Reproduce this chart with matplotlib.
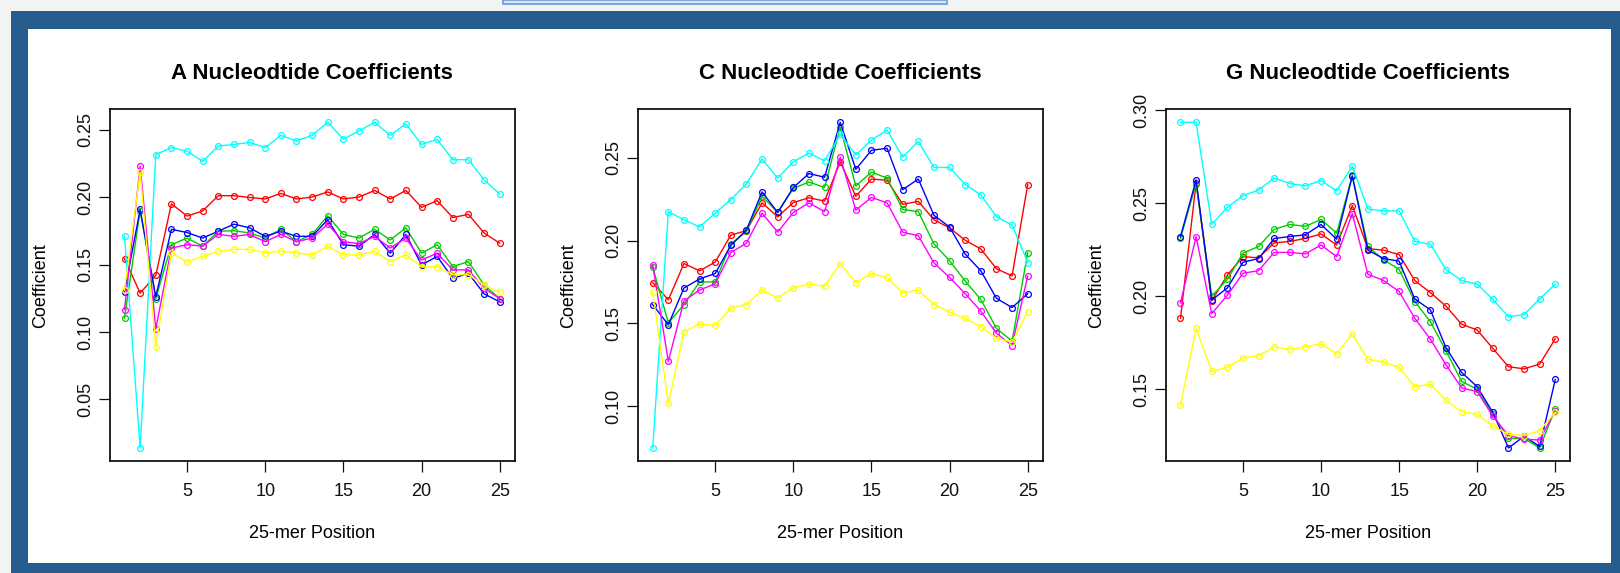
import matplotlib
matplotlib.use("Agg")
import matplotlib.pyplot as plt
from matplotlib.patches import Rectangle

plt.rcParams["font.family"] = ["Liberation Sans", "DejaVu Sans"]

positions = list(range(1, 26))

# A nucleotide
a_red = [0.1544, 0.1288, 0.1419, 0.195, 0.1859, 0.1897, 0.201, 0.201, 0.1997, 0.1986, 0.2027, 0.1986, 0.2,
         0.2038, 0.1986, 0.2, 0.2049, 0.1986, 0.2049, 0.1924, 0.1973, 0.1848, 0.1872, 0.1734, 0.1658]
a_green = [0.1103, 0.19, 0.1247, 0.1647, 0.1696, 0.1636, 0.1747, 0.175, 0.1734, 0.1696, 0.1761, 0.1669, 0.1723,
           0.1861, 0.1723, 0.1696, 0.1761, 0.1682, 0.1772, 0.1584, 0.1647, 0.1484, 0.1522, 0.1348, 0.1247]
a_blue = [0.1299, 0.1908, 0.1261, 0.1761, 0.1737, 0.1696, 0.1747, 0.1799, 0.1772, 0.1709, 0.1747, 0.1709, 0.1709,
          0.1832, 0.1647, 0.1636, 0.1723, 0.1584, 0.1723, 0.1497, 0.156, 0.1397, 0.1435, 0.1283, 0.1223]
a_cyan = [0.171, 0.014, 0.2315, 0.2367, 0.234, 0.2264, 0.2378, 0.239, 0.2405, 0.2367, 0.2457, 0.2416, 0.2457,
          0.2554, 0.243, 0.249, 0.2554, 0.2457, 0.2543, 0.239, 0.2427, 0.2277, 0.2277, 0.2128, 0.2022]
a_magenta = [0.1166, 0.2228, 0.1022, 0.1622, 0.1647, 0.1636, 0.1723, 0.1709, 0.1723, 0.1669, 0.1723, 0.1669, 0.1696,
             0.1799, 0.1669, 0.1655, 0.1709, 0.1622, 0.1696, 0.1533, 0.1584, 0.146, 0.146, 0.1324, 0.1247]
a_yellow = [0.131, 0.2185, 0.0892, 0.1587, 0.1519, 0.156, 0.1598, 0.1612, 0.1612, 0.1587, 0.1598, 0.1587, 0.1571,
            0.1636, 0.1571, 0.1571, 0.1598, 0.1522, 0.1571, 0.1484, 0.1484, 0.1424, 0.1424, 0.1348, 0.1294]

# C nucleotide
c_red = [0.1746, 0.1642, 0.1861, 0.1817, 0.187, 0.2033, 0.206, 0.2228, 0.2144, 0.223, 0.2259, 0.2239, 0.2476,
         0.2268, 0.2372, 0.2365, 0.2219, 0.2237, 0.2126, 0.2077, 0.2002, 0.1949, 0.183, 0.1786, 0.2339]
c_green = [0.1841, 0.1502, 0.1613, 0.175, 0.175, 0.198, 0.2055, 0.2268, 0.217, 0.2316, 0.2354, 0.2321, 0.2686,
           0.233, 0.2414, 0.2378, 0.2188, 0.2175, 0.198, 0.1878, 0.1755, 0.1644, 0.1469, 0.1392, 0.1927]
c_blue = [0.1613, 0.1491, 0.1713, 0.1768, 0.1801, 0.1971, 0.2064, 0.2294, 0.217, 0.2321, 0.2405, 0.2383, 0.2715,
          0.2431, 0.2546, 0.2558, 0.2308, 0.2372, 0.2153, 0.2082, 0.1918, 0.1817, 0.1651, 0.1595, 0.1679]
c_cyan = [0.0746, 0.2175, 0.2126, 0.2082, 0.2166, 0.2248, 0.2343, 0.2493, 0.2378, 0.2476, 0.2529, 0.2482, 0.2642,
          0.2518, 0.2608, 0.2668, 0.2504, 0.26, 0.2442, 0.2442, 0.2339, 0.2277, 0.2144, 0.2095, 0.1867]
c_magenta = [0.1852, 0.127, 0.1635, 0.1701, 0.1739, 0.1927, 0.1985, 0.2166, 0.2051, 0.217, 0.2228, 0.2175, 0.2504,
             0.2184, 0.2261, 0.2228, 0.2051, 0.2029, 0.1865, 0.1777, 0.1679, 0.1573, 0.144, 0.1365, 0.1786]
c_yellow = [0.169, 0.1016, 0.1447, 0.1496, 0.1487, 0.1591, 0.1613, 0.1701, 0.1653, 0.1715, 0.1737, 0.1724, 0.1861,
            0.1746, 0.1799, 0.1777, 0.1684, 0.1701, 0.1613, 0.1569, 0.1529, 0.148, 0.1409, 0.1387, 0.1569]

# G nucleotide
g_red = [0.1882, 0.261, 0.1976, 0.2114, 0.2213, 0.2207, 0.2287, 0.2295, 0.2311, 0.2335, 0.2276, 0.2488, 0.2256,
         0.2248, 0.2224, 0.2085, 0.202, 0.1947, 0.185, 0.1819, 0.172, 0.1622, 0.161, 0.1636, 0.1772]
g_green = [0.2311, 0.2606, 0.2, 0.2091, 0.2232, 0.2268, 0.236, 0.2386, 0.2376, 0.2413, 0.2339, 0.265, 0.2268,
           0.2197, 0.2144, 0.1972, 0.1864, 0.1707, 0.1543, 0.15, 0.1366, 0.1236, 0.1236, 0.1185, 0.1396]
g_blue = [0.2321, 0.2626, 0.198, 0.2045, 0.2183, 0.2203, 0.2311, 0.2321, 0.2331, 0.2386, 0.2307, 0.2646, 0.2248,
          0.2203, 0.2189, 0.1986, 0.1927, 0.1724, 0.1591, 0.1514, 0.1376, 0.1185, 0.1248, 0.1193, 0.1553]
g_cyan = [0.2935, 0.2935, 0.2386, 0.2478, 0.2541, 0.2571, 0.2636, 0.2606, 0.2594, 0.2622, 0.2567, 0.2699, 0.2469,
          0.2459, 0.2459, 0.2295, 0.228, 0.2144, 0.2085, 0.2065, 0.1984, 0.189, 0.1902, 0.1986, 0.2065]
g_magenta = [0.1965, 0.2321, 0.1907, 0.2006, 0.2124, 0.2138, 0.2236, 0.2236, 0.2228, 0.2276, 0.2213, 0.2445, 0.2118,
             0.2085, 0.2026, 0.1882, 0.177, 0.1632, 0.1508, 0.1488, 0.1356, 0.1252, 0.1232, 0.1228, 0.1386]
g_yellow = [0.1415, 0.1829, 0.1596, 0.1618, 0.1669, 0.1681, 0.1728, 0.1715, 0.1728, 0.1744, 0.1691, 0.1799, 0.1661,
            0.1646, 0.1618, 0.1514, 0.1528, 0.1441, 0.138, 0.1366, 0.1303, 0.1258, 0.1252, 0.1278, 0.1376]

titles = ["A Nucleodtide Coefficients", "C Nucleodtide Coefficients", "G Nucleodtide Coefficients"]
panels = [
    [a_red, a_green, a_blue, a_cyan, a_magenta, a_yellow],
    [c_red, c_green, c_blue, c_cyan, c_magenta, c_yellow],
    [g_red, g_green, g_blue, g_cyan, g_magenta, g_yellow],
]
yticks = [[0.05, 0.10, 0.15, 0.20, 0.25], [0.10, 0.15, 0.20, 0.25], [0.15, 0.20, 0.25, 0.30]]
xticks = [5, 10, 15, 20, 25]
colors = ["#ff0000", "#00cd00", "#0000ff", "#00ffff", "#ff00ff", "#ffff00"]

W, H = 1620, 573
fig = plt.figure(figsize=(W / 100, H / 100), dpi=100)
fig.patch.set_facecolor("#f3f3f3")

# window frame behind the plots
fig.patches.append(Rectangle((11 / W, 0), 1 - 11 / W, 1 - 10.7 / H, transform=fig.transFigure,
                             facecolor="#275d8c", edgecolor="none", zorder=-10))
fig.patches.append(Rectangle((28 / W, 1 - 563 / H), (1611 - 28) / W, (563 - 28.6) / H, transform=fig.transFigure,
                             facecolor="white", edgecolor="none", zorder=-9))
fig.patches.append(Rectangle((503 / W, 1 - 3.5 / H), (947 - 503) / W, 4 / H, transform=fig.transFigure,
                             facecolor="#dce8f5", edgecolor="#6b9bd2", linewidth=1.2, zorder=-9))

# axes boxes in pixels: left, right
boxes = [(109.5, 514.7), (637.7, 1042.7), (1165.5, 1570.3)]
top, bottom = 109.3, 461.0

for i in range(3):
    left, right = boxes[i]
    ax = fig.add_axes([left / W, 1 - bottom / H, (right - left) / W, (bottom - top) / H])
    ax.set_zorder(1)
    series = panels[i]
    for vals, col in zip(series, colors):
        ax.plot(positions, vals, color=col, linewidth=1.0, marker="o", markersize=4.2,
                markerfacecolor="none", markeredgecolor=col, markeredgewidth=0.9)
    lo = min(min(s) for s in series)
    hi = max(max(s) for s in series)
    pad = (hi - lo) * 0.04
    ax.set_ylim(lo - pad, hi + pad)
    ax.set_xlim(1 - 0.96, 25 + 0.96)
    ax.set_xticks(xticks)
    ax.set_yticks(yticks[i])
    ax.set_yticklabels(["%.2f" % t for t in yticks[i]])
    ax.tick_params(axis="both", direction="out", length=7.9, width=0.9, labelsize=13, colors="#111111")
    ax.tick_params(axis="x", pad=8)
    ax.tick_params(axis="y", pad=3)
    for lab in ax.get_yticklabels():
        lab.set_rotation(90)
        lab.set_va("center")
    for sp in ax.spines.values():
        sp.set_linewidth(1.3)
        sp.set_color("#111111")
    ax.set_title(titles[i], fontsize=16, fontweight="bold", pad=22)
    h = bottom - top
    w = right - left
    ax.text(0.5, -(533.6 - bottom) / h, "25-mer Position", transform=ax.transAxes,
            ha="center", va="center", fontsize=13)
    ax.text(-69 / w, 0.5, "Coefficient", transform=ax.transAxes,
            ha="center", va="center", rotation=90, fontsize=13)

fig.savefig("out.png", dpi=100, facecolor=fig.get_facecolor())
